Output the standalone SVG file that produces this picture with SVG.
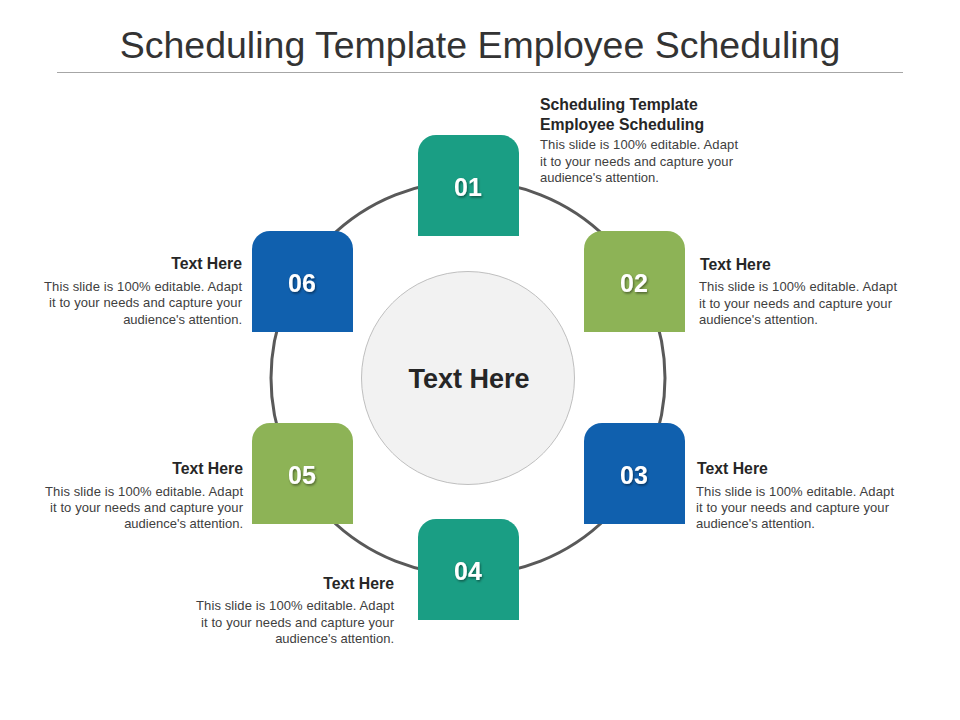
<svg xmlns="http://www.w3.org/2000/svg" xmlns:xlink="http://www.w3.org/1999/xlink" width="960" height="720" viewBox="0 0 960 720">
<style>
.title{font-family:"Liberation Sans",Arial,sans-serif;font-size:37.5px;fill:#333333;}
.num{font-family:"Liberation Sans",Arial,sans-serif;font-size:25px;font-weight:bold;fill:#ffffff;text-anchor:middle;}
.hd{font-family:"Liberation Sans",Arial,sans-serif;font-size:15.8px;font-weight:bold;fill:#262626;}
.bd{font-family:"Liberation Sans",Arial,sans-serif;font-size:13px;fill:#404040;}
.r{text-anchor:end;}
.teal{fill:#1a9e84;}
.green{fill:#8db356;}
.blue{fill:#1060ae;}
</style>
<defs>
<path id="box" d="M0,101 V18 A18,18 0 0 1 18,0 H83 A18,18 0 0 1 101,18 V101 Z"/>
<filter id="sh" x="-20%" y="-20%" width="140%" height="140%">
<feDropShadow dx="1" dy="1.5" stdDeviation="1" flood-color="#000000" flood-opacity="0.45"/>
</filter>
</defs>
<rect width="960" height="720" fill="#ffffff"/>
<text class="title" x="480" y="58" text-anchor="middle">Scheduling Template Employee Scheduling</text>
<line x1="57" y1="72.5" x2="903" y2="72.5" stroke="#a6a6a6" stroke-width="1"/>
<g id="connectors">
<circle cx="468" cy="378" r="197" fill="none" stroke="#595959" stroke-width="3"/>
</g>
<g id="center">
<circle cx="468" cy="378" r="106.5" fill="#f2f2f2" stroke="#bfbfbf" stroke-width="1"/>
<text x="469" y="388" text-anchor="middle" style="font-family:'Liberation Sans',Arial,sans-serif;font-size:27px;font-weight:bold;fill:#262626">Text Here</text>
</g>
<g id="node01">
<use xlink:href="#box" class="teal" x="418" y="135"/>
<text class="num" x="468" y="196" filter="url(#sh)">01</text>
<text class="hd" x="540" y="110">Scheduling Template</text>
<text class="hd" x="540" y="130">Employee Scheduling</text>
<text class="bd" x="540" y="149" textLength="198" lengthAdjust="spacing">This slide is 100% editable. Adapt</text>
<text class="bd" x="540" y="166" textLength="193" lengthAdjust="spacing">it to your needs and capture your</text>
<text class="bd" x="540" y="182">audience's attention.</text>
</g>
<g id="node02">
<use xlink:href="#box" class="green" x="584" y="231"/>
<text class="num" x="634" y="292" filter="url(#sh)">02</text>
<text class="hd" x="700" y="270">Text Here</text>
<text class="bd" x="699" y="291" textLength="198" lengthAdjust="spacing">This slide is 100% editable. Adapt</text>
<text class="bd" x="699" y="308" textLength="193" lengthAdjust="spacing">it to your needs and capture your</text>
<text class="bd" x="699" y="324">audience's attention.</text>
</g>
<g id="node03">
<use xlink:href="#box" class="blue" x="584" y="423"/>
<text class="num" x="634" y="484" filter="url(#sh)">03</text>
<text class="hd" x="697" y="474">Text Here</text>
<text class="bd" x="696" y="496" textLength="198" lengthAdjust="spacing">This slide is 100% editable. Adapt</text>
<text class="bd" x="696" y="512" textLength="193" lengthAdjust="spacing">it to your needs and capture your</text>
<text class="bd" x="696" y="528">audience's attention.</text>
</g>
<g id="node04">
<use xlink:href="#box" class="teal" x="418" y="519"/>
<text class="num" x="468" y="580" filter="url(#sh)">04</text>
<text class="hd r" x="394" y="589">Text Here</text>
<text class="bd" x="196" y="610" textLength="198" lengthAdjust="spacing">This slide is 100% editable. Adapt</text>
<text class="bd" x="201" y="627" textLength="193" lengthAdjust="spacing">it to your needs and capture your</text>
<text class="bd r" x="394" y="643">audience's attention.</text>
</g>
<g id="node05">
<use xlink:href="#box" class="green" x="252" y="423"/>
<text class="num" x="302" y="484" filter="url(#sh)">05</text>
<text class="hd r" x="243" y="474">Text Here</text>
<text class="bd" x="45" y="496" textLength="198" lengthAdjust="spacing">This slide is 100% editable. Adapt</text>
<text class="bd" x="50" y="512" textLength="193" lengthAdjust="spacing">it to your needs and capture your</text>
<text class="bd r" x="243" y="528">audience's attention.</text>
</g>
<g id="node06">
<use xlink:href="#box" class="blue" x="252" y="231"/>
<text class="num" x="302" y="292" filter="url(#sh)">06</text>
<text class="hd r" x="242" y="269">Text Here</text>
<text class="bd" x="44" y="291" textLength="198" lengthAdjust="spacing">This slide is 100% editable. Adapt</text>
<text class="bd" x="49" y="307" textLength="193" lengthAdjust="spacing">it to your needs and capture your</text>
<text class="bd r" x="242" y="324">audience's attention.</text>
</g>
</svg>
